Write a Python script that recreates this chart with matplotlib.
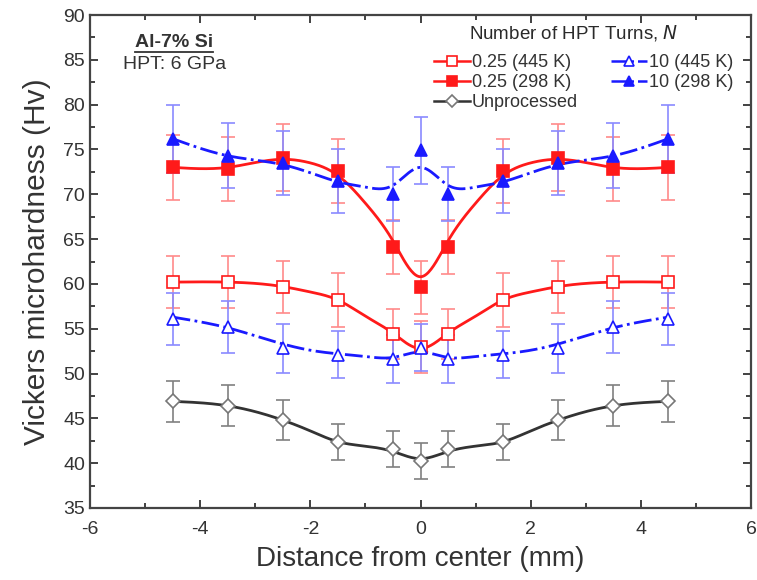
import numpy as np
import matplotlib
matplotlib.use("Agg")
import matplotlib.pyplot as plt
from matplotlib.lines import Line2D
from matplotlib.ticker import MultipleLocator

# ---------------- data ----------------
x = [-4.5, -3.5, -2.5, -1.5, -0.5, 0.0, 0.5, 1.5, 2.5, 3.5, 4.5]

red445 = [60.2, 60.2, 59.7, 58.2, 54.4, 53.0, 54.4, 58.2, 59.7, 60.2, 60.2]
red445_err = [2.9, 2.9, 2.9, 3.0, 2.8, 2.9, 2.8, 3.0, 2.9, 2.9, 2.9]

red298 = [73.0, 72.8, 74.1, 72.6, 64.1, 59.6, 64.1, 72.6, 74.1, 72.8, 73.0]
red298_err = [3.6, 3.6, 3.7, 3.6, 3.0, 3.0, 3.0, 3.6, 3.7, 3.6, 3.6]

blue445 = [56.1, 55.2, 52.8, 52.1, 51.6, 52.9, 51.6, 52.1, 52.8, 55.2, 56.1]
blue445_err = [2.9, 2.9, 2.7, 2.6, 2.7, 2.6, 2.7, 2.6, 2.7, 2.9, 2.9]

blue298 = [76.2, 74.3, 73.5, 71.5, 70.0, 74.9, 70.0, 71.5, 73.5, 74.3, 76.2]
blue298_err = [3.8, 3.6, 3.6, 3.6, 3.0, 3.7, 3.0, 3.6, 3.6, 3.6, 3.8]

unproc = [46.9, 46.4, 44.8, 42.4, 41.6, 40.2, 41.6, 42.4, 44.8, 46.4, 46.9]
unproc_err = [2.3, 2.3, 2.2, 2.0, 2.0, 2.0, 2.0, 2.0, 2.2, 2.3, 2.3]

# fitted trend curves (at these positions)
fit_x = [-4.5, -3.5, -2.5, -2.0, -1.5, -1.0, -0.5, 0.0, 0.5, 1.0, 1.5, 2.0, 2.5, 3.5, 4.5]
fit_red298 = [73.0, 73.0, 73.9, 73.5, 72.1, 69.0, 64.8, 60.8, 64.8, 69.0, 72.1, 73.5, 73.9, 73.0, 73.0]
fit_blue298 = [76.2, 74.3, 73.3, 72.4, 71.4, 70.8, 71.0, 73.0, 71.0, 70.8, 71.4, 72.4, 73.3, 74.3, 76.2]
fit_red445 = [60.2, 60.2, 59.7, 59.1, 58.2, 56.4, 54.5, 52.8, 54.5, 56.4, 58.2, 59.1, 59.7, 60.2, 60.2]
fit_blue445 = [56.3, 55.1, 53.3, 52.6, 52.2, 51.9, 51.8, 52.4, 51.8, 51.9, 52.2, 52.6, 53.3, 55.1, 56.3]
fit_unproc = [46.9, 46.4, 44.8, 43.6, 42.4, 41.9, 41.3, 40.5, 41.3, 41.9, 42.4, 43.6, 44.8, 46.4, 46.9]

labels = ["0.25 (445 K)", "0.25 (298 K)", "Unprocessed", "10 (445 K)", "10 (298 K)"]
legend_title = 'Number of HPT Turns, $\\mathit{N}$'
xticks = [-6, -4, -2, 0, 2, 4, 6]
yticks = [35, 40, 45, 50, 55, 60, 65, 70, 75, 80, 85, 90]


def natural_spline(xk, yk, n=400):
    xk = np.asarray(xk, float)
    yk = np.asarray(yk, float)
    m = len(xk)
    h = np.diff(xk)
    A = np.zeros((m, m))
    b = np.zeros(m)
    A[0, 0] = 1
    A[-1, -1] = 1
    for i in range(1, m - 1):
        A[i, i - 1] = h[i - 1]
        A[i, i] = 2 * (h[i - 1] + h[i])
        A[i, i + 1] = h[i]
        b[i] = 3 * ((yk[i + 1] - yk[i]) / h[i] - (yk[i] - yk[i - 1]) / h[i - 1])
    c = np.linalg.solve(A, b)
    bb = np.zeros(m - 1)
    d = np.zeros(m - 1)
    for i in range(m - 1):
        bb[i] = (yk[i + 1] - yk[i]) / h[i] - h[i] * (2 * c[i] + c[i + 1]) / 3
        d[i] = (c[i + 1] - c[i]) / (3 * h[i])
    xs = np.linspace(xk[0], xk[-1], n)
    idx = np.clip(np.searchsorted(xk, xs) - 1, 0, m - 2)
    dx = xs - xk[idx]
    ys = yk[idx] + bb[idx] * dx + c[idx] * dx ** 2 + d[idx] * dx ** 3
    return xs, ys


plt.rcParams['font.family'] = ['Liberation Sans', 'DejaVu Sans']
plt.rcParams['axes.unicode_minus'] = False

fig = plt.figure(figsize=(7.57, 5.80), dpi=100)
ax = fig.add_axes([90 / 757, 72 / 580, 661 / 757, 493 / 580])

RED = '#ff1a1a'
BLUE = '#1a1aff'
BLACK = '#333333'
ERR_RED = '#ff8a8a'
ERR_BLUE = '#8a8aff'
ERR_BLACK = '#808080'

series = [
    (red445, red445_err, fit_red445, RED, ERR_RED, 's', 'white', '-', labels[0]),
    (red298, red298_err, fit_red298, RED, ERR_RED, 's', RED, '-', labels[1]),
    (unproc, unproc_err, fit_unproc, BLACK, ERR_BLACK, 'D', 'white', '-', labels[2]),
    (blue445, blue445_err, fit_blue445, BLUE, ERR_BLUE, '^', 'white', '-.', labels[3]),
    (blue298, blue298_err, fit_blue298, BLUE, ERR_BLUE, '^', BLUE, '-.', labels[4]),
]

handles = []
for ys, es, fit, col, ecol, mk, mfc, ls, lab in series:
    ax.errorbar(x, ys, yerr=es, fmt='none', ecolor=ecol, elinewidth=1.2,
                capsize=5, capthick=1.2, zorder=2)
    fx, fy = natural_spline(fit_x, fit)
    ax.plot(fx, fy, color=col, lw=2.0, ls=ls, zorder=3)
    mec = col if mk != 'D' else '#777777'
    msize = 8 if mk != 'D' else 7
    ax.plot(x, ys, ls='none', marker=mk, ms=msize, mfc=mfc, mec=mec, mew=1.2, zorder=4)
    handles.append(Line2D([0], [0], color=col, lw=1.8, ls=ls, marker=mk, ms=msize - 1,
                          mfc=mfc, mec=mec, mew=1.2))

ax.set_xlim(-6, 6)
ax.set_ylim(35, 90)
ax.set_xticks(xticks)
ax.set_yticks(yticks)
ax.xaxis.set_minor_locator(MultipleLocator(1))
ax.yaxis.set_minor_locator(MultipleLocator(2.5))
ax.tick_params(which='both', direction='in', top=True, right=True, labelsize=14,
               width=1.3, colors='#333333', labelcolor='#333333')
ax.tick_params(which='major', length=6)
ax.tick_params(which='minor', length=3.5)
ax.tick_params(axis='x', pad=9)
for s in ax.spines.values():
    s.set_linewidth(1.6)
    s.set_color('#444444')

ax.set_xlabel('Distance from center (mm)', fontsize=20, color='#333333', labelpad=6)
ax.set_ylabel('Vickers microhardness (Hv)', fontsize=21.5, color='#333333', labelpad=9)

leg = ax.legend(handles, labels, ncol=2, loc='upper right', bbox_to_anchor=(0.99, 0.942),
                frameon=False, fontsize=13, handlelength=2.0, handletextpad=0.1,
                columnspacing=1.85, labelspacing=0.15, borderaxespad=0.2)
for t in leg.get_texts():
    t.set_color('#333333')
ax.text(0.731, 0.963, legend_title, transform=ax.transAxes, fontsize=13.5,
        color='#2a2a2a', ha='center', va='center')

t1 = ax.text(0.068, 0.945, 'Al-7% Si', transform=ax.transAxes, fontsize=14,
             fontweight='bold', color='#333333', va='center')
ax.text(0.05, 0.899, 'HPT: 6 GPa', transform=ax.transAxes, fontsize=14,
        color='#333333', va='center')

fig.canvas.draw()
bb = t1.get_window_extent()
inv = fig.transFigure.inverted()
(x0, y0), (x1, y1) = inv.transform([[bb.x0, bb.y0 - 1.0], [bb.x1, bb.y0 - 1.0]])
fig.add_artist(Line2D([x0, x1], [y0, y1], transform=fig.transFigure, color='#333333', lw=1.3))

fig.savefig('out.png', dpi=100)
